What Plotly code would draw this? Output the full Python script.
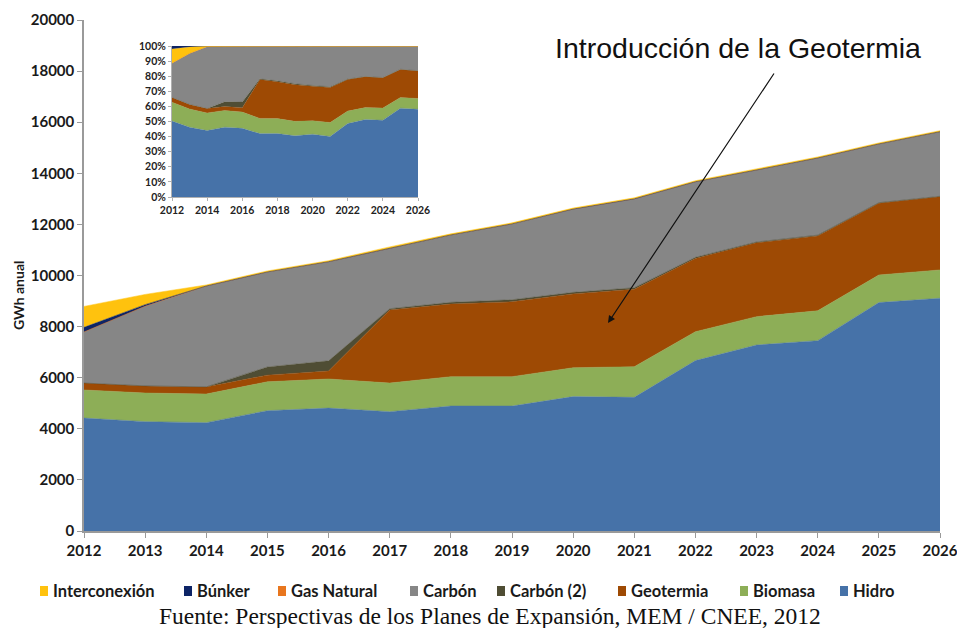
import plotly.graph_objects as go

years = list(range(2012, 2027))

hidro = [4420, 4280, 4240, 4710, 4810, 4670, 4890, 4890, 5260, 5230, 6670, 7280, 7450, 8940, 9110]
biomasa = [1100, 1120, 1120, 1130, 1140, 1120, 1150, 1150, 1130, 1200, 1130, 1110, 1170, 1080, 1110]
geotermia = [270, 280, 280, 260, 310, 2860, 2840, 2930, 2890, 3030, 2870, 2890, 2930, 2810, 2860]
carbon2 = [0, 0, 0, 320, 400, 50, 70, 80, 60, 60, 40, 30, 30, 20, 20]
carbon = [2000, 3120, 3950, 3720, 3880, 2380, 2640, 2970, 3260, 3480, 2960, 2820, 3020, 2300, 2530]
gas_natural = [0, 0, 0, 0, 0, 0, 0, 0, 0, 0, 0, 0, 0, 0, 0]
bunker = [180, 60, 0, 0, 0, 0, 0, 0, 0, 0, 0, 0, 0, 0, 0]
interconexion = [820, 400, 40, 40, 40, 40, 40, 40, 40, 40, 40, 40, 40, 40, 40]

series = [
    ("Hidro", hidro, "#4672A8"),
    ("Biomasa", biomasa, "#8DAE57"),
    ("Geotermia", geotermia, "#9E4A04"),
    ("Carbón (2)", carbon2, "#4F4D34"),
    ("Carbón", carbon, "#868686"),
    ("Gas Natural", gas_natural, "#E8761E"),
    ("Búnker", bunker, "#0D2466"),
    ("Interconexión", interconexion, "#FFC20E"),
]
# the inset stacks Interconexión below Búnker
inset_order = ["Hidro", "Biomasa", "Geotermia", "Carbón (2)", "Carbón", "Gas Natural", "Interconexión", "Búnker"]

# legend order (left to right) and square positions in pixels
legend_order = ["Interconexión", "Búnker", "Gas Natural", "Carbón", "Carbón (2)", "Geotermia", "Biomasa", "Hidro"]
legend_x = [40, 184, 278, 410, 497, 618, 740, 840]

lookup = {n: (v, c) for n, v, c in series}

fig = go.Figure()
for name, vals, col in series:
    fig.add_trace(go.Scatter(
        x=years, y=vals, name=name, stackgroup="main", mode="lines",
        line=dict(width=0.5, color=col), fillcolor=col,
        xaxis="x", yaxis="y", showlegend=False,
    ))
for i, name in enumerate(inset_order):
    vals, col = lookup[name]
    fig.add_trace(go.Scatter(
        x=years, y=vals, name=name, stackgroup="inset",
        groupnorm="percent" if i == 0 else None,
        mode="lines", line=dict(width=0.3, color=col), fillcolor=col,
        xaxis="x2", yaxis="y2", showlegend=False, hoverinfo="skip",
    ))

fam = "Lato, DejaVu Sans, sans-serif"
tickfont = dict(family=fam, size=15, color="#1a1a1a", weight="bold")
insetfont = dict(family=fam, size=10.5, color="#222", weight="bold")

W, H = 856.0, 511.0
def px(x):
    return (x - 84) / W
def py(y):
    return (531 - y) / H

shapes = []
annotations = [
    dict(x=2020.57, y=8140, xref="x", yref="y", ax=167, ay=-251, axref="pixel", ayref="pixel",
         showarrow=True, arrowhead=2, arrowsize=1.2, arrowwidth=1.2, arrowcolor="#111", text=""),
    dict(x=px(738), y=py(48), xref="paper", yref="paper", xanchor="center", yanchor="middle",
         text="Introducción de la Geotermia", showarrow=False,
         font=dict(family="Liberation Sans, Arial, sans-serif", size=28.5, color="#111")),
    dict(x=px(490), y=py(616), xref="paper", yref="paper", xanchor="center", yanchor="middle",
         text="Fuente: Perspectivas de los Planes de Expansión, MEM / CNEE, 2012", showarrow=False,
         font=dict(family="Liberation Serif, DejaVu Serif, serif", size=23.5, color="#111")),
    dict(x=px(18), y=py(296), xref="paper", yref="paper", xanchor="center", yanchor="middle",
         text="GWh anual", textangle=-90, showarrow=False,
         font=dict(family=fam, size=14, color="#1a1a1a", weight="bold")),
]
for name, lx in zip(legend_order, legend_x):
    shapes.append(dict(type="rect", xref="paper", yref="paper",
                       x0=px(lx), x1=px(lx + 8), y0=py(596), y1=py(586),
                       fillcolor=lookup[name][1], line=dict(width=0)))
    annotations.append(dict(x=px(lx + 11), y=py(591), xref="paper", yref="paper",
                            xanchor="left", yanchor="middle", text=name, showarrow=False,
                            font=dict(family=fam, size=16.5, color="#1a1a1a", weight="bold")))

fig.update_layout(
    width=957, height=628,
    margin=dict(l=84, r=17, t=20, b=97, autoexpand=False),
    paper_bgcolor="white", plot_bgcolor="white",
    showlegend=False,
    xaxis=dict(range=[2012, 2026], tickmode="linear", dtick=1, tick0=2012,
               showline=True, linecolor="#9a9a9a", linewidth=1.5,
               ticks="outside", ticklen=5, tickcolor="#9a9a9a",
               showgrid=False, zeroline=False, tickfont=tickfont, automargin=False,
               ticklabeloverflow="allow"),
    yaxis=dict(range=[0, 20000], dtick=2000, tickformat="d", showline=True, linecolor="#9a9a9a",
               linewidth=1.5, ticks="outside", ticklen=5, tickcolor="#9a9a9a", showgrid=False,
               zeroline=False, tickfont=tickfont, automargin=False),
    xaxis2=dict(domain=[px(172), px(418)], anchor="y2", range=[2012, 2026], dtick=2, tick0=2012,
                showline=True, linecolor="#b0b0b0", ticks="outside", ticklen=3, tickcolor="#b0b0b0",
                showgrid=False, zeroline=False, tickfont=insetfont, automargin=False),
    yaxis2=dict(domain=[py(197), py(46)], anchor="x2", range=[0, 100], dtick=10, ticksuffix="%",
                showline=True, linecolor="#b0b0b0", ticks="outside", ticklen=3, tickcolor="#b0b0b0",
                showgrid=False, zeroline=False, tickfont=insetfont, automargin=False),
    shapes=shapes,
    annotations=annotations,
)

fig.write_html("out.html", config={"displayModeBar": False},
               post_script="document.body.style.margin='0px';")
